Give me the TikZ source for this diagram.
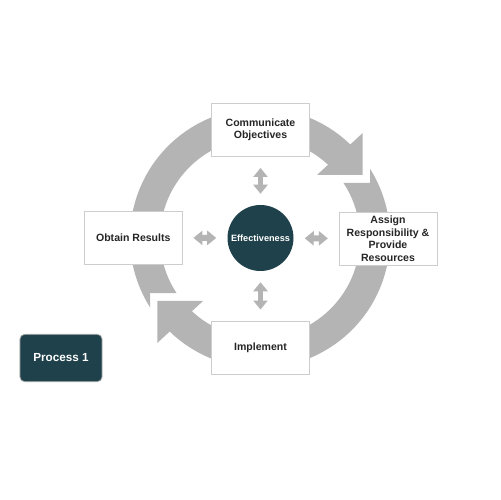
\documentclass[tikz,border=0pt]{standalone}
\usepackage{fontspec}
\setmainfont{Liberation Sans}
\usepackage{tikz}
\usetikzlibrary{arrows.meta}

\definecolor{ringgray}{RGB}{180,180,180}
\definecolor{darkteal}{HTML}{1F414B}
\definecolor{boxline}{RGB}{205,205,205}

\tikzset{
  stepbox/.style={draw=boxline,line width=0.5pt,fill=white,
    minimum width=2.93cm,minimum height=1.6cm,inner sep=0pt,
    align=center,text=black!85,
    font=\fontsize{9}{10.6}\selectfont\bfseries},
  hub/.style={circle,fill=darkteal,minimum size=1.98cm,inner sep=0pt,
    text=white,font=\fontsize{7.8}{9}\selectfont\bfseries},
  tagbox/.style={rounded corners=4pt,fill=darkteal,draw=black!35,
    line width=0.6pt,minimum width=2.46cm,minimum height=1.42cm,
    inner sep=0pt,text=white,font=\fontsize{10}{12}\selectfont\bfseries},
  linkarrow/.style={draw=ringgray,line width=5.1pt,
    {Triangle[length=7.7pt,width=12pt]}-{Triangle[length=7.7pt,width=12pt]},
    shorten <=9.4pt,shorten >=9.4pt}
}

\begin{document}
\begin{tikzpicture}[x=0.03cm,y=0.03cm]
  \fill[white]
    (0,0)
    rectangle
    (500,500);
  \useasboundingbox
    (0,0)
    rectangle
    (500,500);

  % ring arrows
  \begin{scope}[shift={(260,262)}]
    \fill[ringgray]
      (213.4:100)
      -- (-110,-55)
      -- (212.2:130)
      arc[start angle=212.2,end angle=46.0,radius=130]
      -- (102.7,105)
      -- (102.7,63)
      -- (57,63)
      -- (47.1:100)
      arc[start angle=47.1,end angle=213.4,radius=100]
      -- cycle;
    \fill[ringgray]
      (33.4:100)
      -- (110,55)
      -- (32.2:130)
      arc[start angle=32.2,end angle=-134.0,radius=130]
      -- (-102.7,-105)
      -- (-102.7,-63)
      -- (-57,-63)
      -- (-132.9:100)
      arc[start angle=-132.9,end angle=33.4,radius=100]
      -- cycle;
  \end{scope}

  \node[stepbox] (communicate) at (260.5,370) {Communicate\\Objectives};
  \node[stepbox] (assign) at (388,261.2) {Assign\\Responsibility \&\\Provide\\Resources};
  \node[stepbox] (implement) at (260.5,152.5) {Implement};
  \node[stepbox] (obtain) at (133.3,262.2) {Obtain Results};
  \node[hub] (effect) at (260.5,262) {Effectiveness};
  \node[tagbox] (process) at (61,142) {Process 1};

  \draw[linkarrow]
    (effect)
    --
    (communicate);
  \draw[linkarrow]
    (effect)
    --
    (assign);
  \draw[linkarrow]
    (effect)
    --
    (implement);
  \draw[linkarrow]
    (effect)
    --
    (obtain);
\end{tikzpicture}
\end{document}
